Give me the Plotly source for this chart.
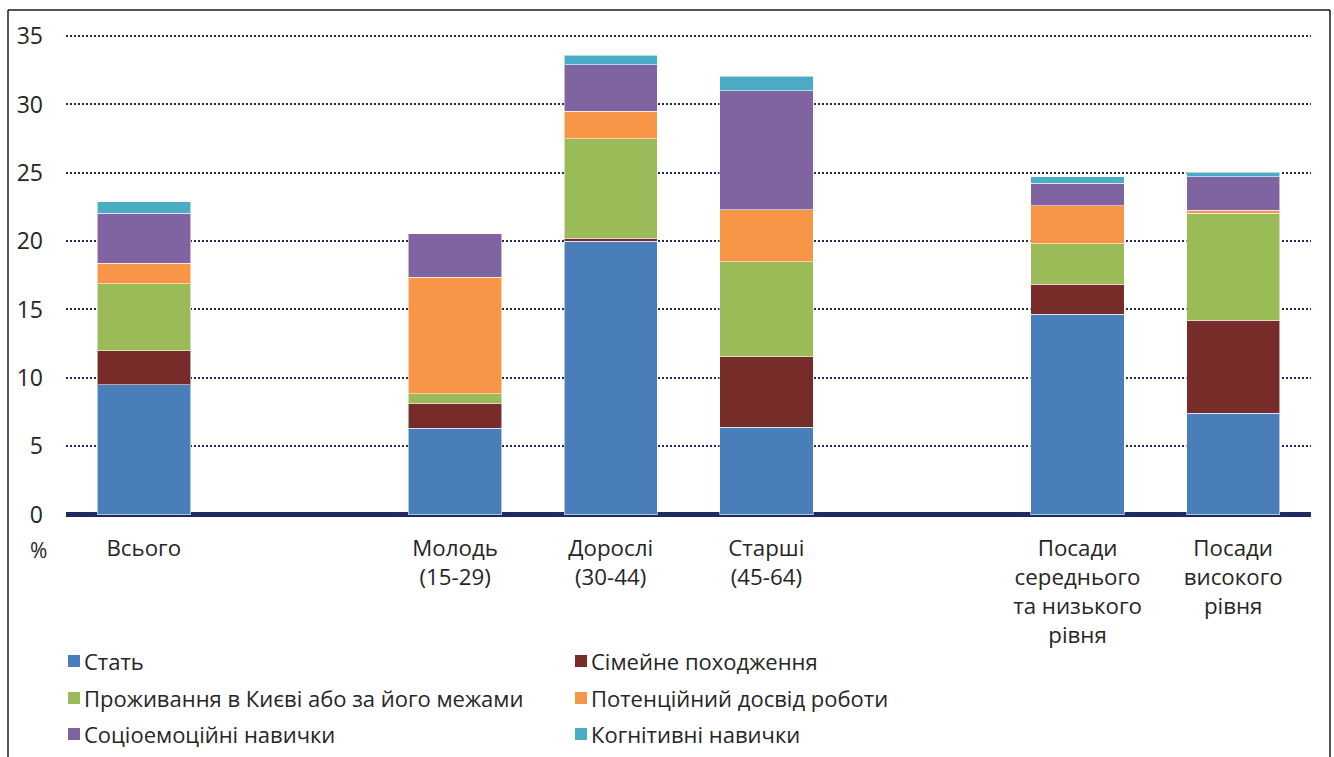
import plotly.graph_objects as go

# Categories (two blank spacer slots separate the groups)
categories = [
    "Всього", " ", "Молодь<br>(15-29)", "Дорослі<br>(30-44)", "Старші<br>(45-64)", "  ",
    "Посади<br>середнього<br>та низького<br>рівня", "Посади<br>високого<br>рівня",
]
bar_categories = [categories[0], categories[2], categories[3], categories[4], categories[6], categories[7]]

series_names = [
    "Стать", "Сімейне походження", "Проживання в Києві або за його межами",
    "Потенційний досвід роботи", "Соціоемоційні навички", "Когнітивні навички",
]
stat = [9.5, 6.3, 20.0, 6.4, 14.65, 7.4]
family = [2.5, 1.85, 0.2, 5.15, 2.2, 6.8]
residence = [4.9, 0.7, 7.3, 6.95, 2.95, 7.85]
experience = [1.5, 8.5, 2.0, 3.8, 2.8, 0.2]
socio = [3.65, 3.2, 3.4, 8.7, 1.65, 2.45]
cognitive = [0.85, 0.0, 0.7, 1.05, 0.45, 0.35]

colors = ["#4A7EBB", "#772C2A", "#9BBB59", "#F79646", "#8064A2", "#4BACC6"]
series_values = [stat, family, residence, experience, socio, cognitive]

FONT = "Open Sans"
TEXT_COLOR = "#262626"
NAVY = "#1F2B5E"

W, H = 1334, 757
ML, MR, MT, MB = 66, 23, 32, 237
Y_RANGE = [-0.4, 35.3]

fig = go.Figure()
for name, vals, col in zip(series_names, series_values, colors):
    fig.add_trace(go.Bar(
        x=bar_categories, y=vals, name=name,
        marker=dict(color=col, line=dict(color="rgba(255,255,255,0.55)", width=1)),
        showlegend=False,
    ))

plot_w = W - ML - MR
plot_h = H - MT - MB


def px_x(px):
    return (px - ML) / plot_w


def px_y(py):
    return (H - MB - py) / plot_h


shapes = []
annotations = []

# Legend: two columns, three rows
legend_cols = [68, 575]
legend_rows = [661, 698, 734]
for i, (name, col) in enumerate(zip(series_names, colors)):
    cx = legend_cols[i % 2]
    cy = legend_rows[i // 2]
    shapes.append(dict(
        type="rect", xref="paper", yref="paper",
        x0=px_x(cx), x1=px_x(cx + 12), y0=px_y(cy + 6), y1=px_y(cy - 6),
        fillcolor=col, line=dict(width=0),
    ))
    annotations.append(dict(
        xref="paper", yref="paper", x=px_x(cx + 14), y=px_y(cy),
        text=name, showarrow=False, xanchor="left", yanchor="middle",
        font=dict(family=FONT, size=22, color=TEXT_COLOR),
    ))

# Unit label under the value axis
annotations.append(dict(
    xref="paper", yref="paper", x=px_x(38), y=px_y(550),
    text="%", showarrow=False, xanchor="center", yanchor="middle",
    font=dict(family=FONT, size=21, color=TEXT_COLOR),
))

# Outer frame
frame = dict(color="#1A1A1A", width=1.5)
shapes += [
    dict(type="line", xref="paper", yref="paper", x0=px_x(8), x1=px_x(8), y0=px_y(10), y1=px_y(H + 5), line=frame),
    dict(type="line", xref="paper", yref="paper", x0=px_x(8), x1=px_x(1330), y0=px_y(10), y1=px_y(10), line=frame),
    dict(type="line", xref="paper", yref="paper", x0=px_x(1330), x1=px_x(1330), y0=px_y(10), y1=px_y(H + 5), line=frame),
]

fig.update_layout(
    width=W, height=H,
    margin=dict(l=ML, r=MR, t=MT, b=MB, pad=0),
    barmode="stack", bargap=0.4,
    plot_bgcolor="white", paper_bgcolor="white",
    font=dict(family=FONT, size=21, color=TEXT_COLOR),
    shapes=shapes, annotations=annotations,
    xaxis=dict(
        type="category", categoryorder="array", categoryarray=categories,
        tickvals=categories, ticktext=categories,
        showgrid=False, showline=False, ticks="", ticklabelstandoff=13,
        tickfont=dict(family=FONT, size=22.3, color=TEXT_COLOR),
    ),
    yaxis=dict(
        range=Y_RANGE, tickvals=[0, 5, 10, 15, 20, 25, 30, 35],
        showgrid=True, gridcolor=NAVY, gridwidth=2, griddash="2px,2px",
        zeroline=True, zerolinecolor=NAVY, zerolinewidth=5,
        showline=False, ticks="", ticklabelstandoff=22,
        tickfont=dict(family=FONT, size=23, color=TEXT_COLOR),
    ),
)

fig.write_html("out.html")
